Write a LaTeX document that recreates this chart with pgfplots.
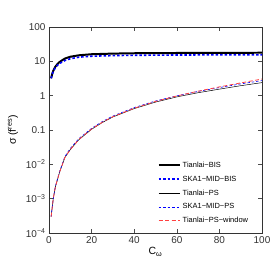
\documentclass[border=0pt]{standalone}
\usepackage{pgfplots}
\pgfplotsset{compat=1.18}
\usepackage{fontspec}
\setmainfont{Liberation Sans}
\begin{document}
\begin{tikzpicture}
\path[use as bounding box] (-49bp,-42bp) rectangle (226bp,233bp);
\begin{axis}[
  at={(0,0)}, anchor=south west,
  scale only axis, width=213bp, height=206bp,
  xmin=0, xmax=100, ymode=log, ymin=1e-4, ymax=100,
  xtick={0,20,40,60,80,100},
  ytick={1e-4,1e-3,1e-2,0.1,1,10,100},
  yticklabels={10\textsuperscript{−4},10\textsuperscript{−3},10\textsuperscript{−2},0.1,1,10,100},
  minor tick num=0, yminorticks=false,
  tick align=inside, major tick length=4bp,
  axis line style={black!80, line width=0.6pt},
  every tick/.style={black!70, line width=0.5pt},
  /pgf/number format/assume math mode=true,
  tick label style={font=\fontsize{10}{12}\selectfont, text=black!80},
  xlabel={C\textsubscript{ω}}, ylabel={σ (f\textsuperscript{res})},
  label style={font=\fontsize{10.5}{12}\selectfont},
  xlabel style={yshift=3bp},
  ylabel style={yshift=1bp},
  legend style={draw=none, fill=none, at={(0.505,0.36)}, anchor=north west,
    font=\fontsize{7.5}{9}\selectfont, row sep=3bp, inner sep=1pt},
  legend cell align=left,
  legend image code/.code={\draw[#1] (0bp,0bp) -- (15bp,0bp); \path (0bp,0bp) -- (21bp,0bp);},
]
\addplot[black, line width=2pt] coordinates {
(1,3.2) (1.5,4.3) (2,5.3) (3,7.0) (4,8.4) (5,9.6) (7.5,12.1) (10,13.6) (14,15.0) (20,16.1) (30,16.8) (40,17.2) (60,17.5) (80,17.7) (100,17.8)};
\addlegendentry{Tianlai−BIS}
\addplot[blue, line width=1.6pt, dash pattern=on 2.5pt off 2pt] coordinates {
(1,3.2) (1.5,4.2) (2,5.1) (3,6.6) (4,7.7) (5,8.7) (7.5,10.6) (10,11.9) (14,13.2) (20,14.1) (30,14.7) (40,15.0) (60,15.3) (80,15.4) (100,15.5)};
\addlegendentry{SKA1−MID−BIS}
\addplot[black, line width=0.5pt] coordinates {
(1,3.0e-4) (2,1.0e-3) (3,2.2e-3) (5,6.0e-3) (7.5,0.016) (10,0.027) (14,0.052) (20,0.105) (25,0.165) (30,0.24) (40,0.42) (50,0.65) (60,0.92) (70,1.22) (80,1.55) (90,1.95) (100,2.4)};
\addlegendentry{Tianlai−PS}
\addplot[blue, line width=0.6pt, dash pattern=on 2.5pt off 2pt] coordinates {
(1,3.0e-4) (2,1.0e-3) (3,2.3e-3) (5,6.3e-3) (7.5,0.017) (10,0.029) (14,0.056) (20,0.112) (25,0.176) (30,0.255) (40,0.45) (50,0.70) (60,0.99) (70,1.33) (80,1.72) (90,2.2) (100,2.75)};
\addlegendentry{SKA1−MID−PS}
\addplot[red!75, line width=0.8pt, dash pattern=on 4pt off 2.5pt] coordinates {
(1,3.0e-4) (2,1.0e-3) (3,2.2e-3) (5,6.0e-3) (7.5,0.016) (10,0.027) (14,0.053) (20,0.107) (25,0.168) (30,0.245) (40,0.43) (50,0.68) (60,0.98) (70,1.35) (80,1.8) (90,2.35) (100,3.05)};
\addlegendentry{Tianlai−PS−window}
\end{axis}
\end{tikzpicture}
\end{document}
